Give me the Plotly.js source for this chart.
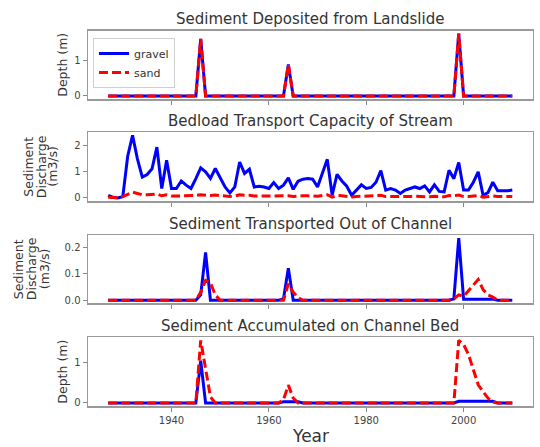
<!DOCTYPE html>
<html>
<head>
<meta charset="utf-8">
<script src="https://cdn.plot.ly/plotly-3.0.1.min.js"></script>
<style>html,body{margin:0;padding:0;background:#fff;}#chart{width:540px;height:447px;}</style>
</head>
<body>
<div id="chart"></div>
<script>
// Years (x values)
const years = [
 1927,1928,1929,1930,1931,1932,1933,1934,1935,1936,
 1937,1938,1939,1940,1941,1942,1943,1944,1945,1946,
 1947,1948,1949,1950,1951,1952,1953,1954,1955,1956,
 1957,1958,1959,1960,1961,1962,1963,1964,1965,1966,
 1967,1968,1969,1970,1971,1972,1973,1974,1975,1976,
 1977,1978,1979,1980,1981,1982,1983,1984,1985,1986,
 1987,1988,1989,1990,1991,1992,1993,1994,1995,1996,
 1997,1998,1999,2000,2001,2002,2003,2004,2005,2006,
 2007,2008,2009,2010];

// Panel 1: Sediment deposited from landslide (m)
const depositGravel = [
 0,0,0,0,0,0,0,0,0,0,
 0,0,0,0,0,0,0,0,0,1.6,
 0,0,0,0,0,0,0,0,0,0,
 0,0,0,0,0,0,0,0.88,0,0,
 0,0,0,0,0,0,0,0,0,0,
 0,0,0,0,0,0,0,0,0,0,
 0,0,0,0,0,0,0,0,0,0,
 0,0,1.75,0,0,0,0,0,0,0,
 0,0,0,0];
const depositSand = [
 0,0,0,0,0,0,0,0,0,0,
 0,0,0,0,0,0,0,0,0,1.6,
 0,0,0,0,0,0,0,0,0,0,
 0,0,0,0,0,0,0,0.88,0,0,
 0,0,0,0,0,0,0,0,0,0,
 0,0,0,0,0,0,0,0,0,0,
 0,0,0,0,0,0,0,0,0,0,
 0,0,1.75,0,0,0,0,0,0,0,
 0,0,0,0];

// Panel 2: Bedload transport capacity (m3/s)
const capacityGravel = [
 0.1,0.02,0.0,0.05,1.6,2.4,1.5,0.8,0.9,1.12,
 1.95,0.36,1.45,0.36,0.36,0.65,0.49,0.36,0.74,1.15,
 1.0,0.75,1.13,0.8,0.42,0.19,0.42,1.38,0.94,1.1,
 0.42,0.45,0.42,0.36,0.59,0.36,0.49,0.77,0.33,0.64,
 0.72,0.74,0.72,0.42,0.95,1.48,0.1,0.9,0.65,0.45,
 0.1,0.3,0.5,0.36,0.4,0.6,1.05,0.3,0.36,0.3,
 0.17,0.3,0.35,0.42,0.36,0.46,0.23,0.5,0.25,0.23,
 1.06,0.74,1.36,0.3,0.3,0.6,1.0,0.1,0.2,0.6,
 0.27,0.27,0.27,0.3];
const capacitySand = [
 0.02,0.0,0.0,0.05,0.15,0.22,0.17,0.12,0.12,0.13,
 0.15,0.08,0.12,0.07,0.07,0.09,0.08,0.07,0.09,0.12,
 0.11,0.09,0.11,0.09,0.07,0.05,0.07,0.12,0.1,0.1,
 0.07,0.07,0.07,0.06,0.08,0.06,0.07,0.08,0.05,0.07,
 0.08,0.08,0.08,0.06,0.09,0.12,0.03,0.09,0.08,0.06,
 0.03,0.05,0.06,0.05,0.06,0.07,0.1,0.05,0.05,0.05,
 0.03,0.05,0.05,0.06,0.05,0.06,0.04,0.06,0.04,0.04,
 0.09,0.08,0.11,0.05,0.05,0.07,0.09,0.03,0.04,0.07,
 0.05,0.05,0.05,0.05];

// Panel 3: Sediment transported out of channel (m3/s)
const outGravel = [
 0,0,0,0,0,0,0,0,0,0,
 0,0,0,0,0,0,0,0,0,0.02,
 0.18,0,0,0,0,0,0,0,0,0,
 0,0,0,0,0,0,0.005,0.12,0,0,
 0,0,0,0,0,0,0,0,0,0,
 0,0,0,0,0,0,0,0,0,0,
 0,0,0,0,0,0,0,0,0,0,
 0,0.005,0.234,0.004,0.004,0.004,0.004,0.004,0.004,0.004,
 0,0,0,0];
const outSand = [
 0,0,0,0,0,0,0,0,0,0,
 0,0,0,0,0,0,0,0,0,0.03,
 0.075,0.065,0.02,0,0,0,0,0,0,0,
 0,0,0,0,0,0,0,0.062,0.03,0.01,
 0,0,0,0,0,0,0,0,0,0,
 0,0,0,0,0,0,0,0,0,0,
 0,0,0,0,0,0,0,0,0,0,
 0,0.005,0.02,0.015,0.035,0.055,0.078,0.04,0.02,0.012,
 0,0,0,0];

// Panel 4: Sediment accumulated on channel bed (m)
const bedGravel = [
 0,0,0,0,0,0,0,0,0,0,
 0,0,0,0,0,0,0,0,0,1.05,
 0,0,0,0,0,0,0,0,0,0,
 0,0,0,0,0,0,0.03,0.03,0.03,0.03,
 0,0,0,0,0,0,0,0,0,0,
 0,0,0,0,0,0,0,0,0,0,
 0,0,0,0,0,0,0,0,0,0,
 0,0,0.04,0.04,0.04,0.04,0.04,0.04,0.04,0.04,
 0,0,0,0];
const bedSand = [
 0,0,0,0,0,0,0,0,0,0,
 0,0,0,0,0,0,0,0,0,1.55,
 0.9,0.15,0,0,0,0,0,0,0,0,
 0,0,0,0,0,0,0.08,0.44,0.12,0,
 0,0,0,0,0,0,0,0,0,0,
 0,0,0,0,0,0,0,0,0,0,
 0,0,0,0,0,0,0,0,0,0,
 0,0,1.55,1.45,1.2,0.8,0.45,0.28,0.12,0.02,
 0,0,0,0];

const panelTitles = ['Sediment Deposited from Landslide','Bedload Transport Capacity of Stream',
  'Sediment Transported Out of Channel','Sediment Accumulated on Channel Bed'];
const xTickVals = [1940,1960,1980,2000];
const xTickText = ['1940','1960','1980','2000'];
const seriesNames = ['gravel','sand'];

const W = 540, H = 447;
const px = v => v / W;
const py = v => 1 - v / H;

const gravelData = [depositGravel, capacityGravel, outGravel, bedGravel];
const sandData = [depositSand, capacitySand, outSand, bedSand];

const traces = [];
for (let i = 0; i < 4; i++) {
  const xa = i === 0 ? 'x' : 'x' + (i + 1);
  const ya = i === 0 ? 'y' : 'y' + (i + 1);
  traces.push({x: years, y: gravelData[i], xaxis: xa, yaxis: ya, type: 'scatter', mode: 'lines',
    name: seriesNames[0], showlegend: i === 0, legendgroup: 'g',
    line: {color: '#0000ff', width: 3}});
  traces.push({x: years, y: sandData[i], xaxis: xa, yaxis: ya, type: 'scatter', mode: 'lines',
    name: seriesNames[1], showlegend: i === 0, legendgroup: 's',
    line: {color: '#ff0000', width: 3, dash: '9px,4px'}});
}

// pixel boxes of the four panels (top, bottom)
const boxes = [[30.5, 99], [132.3, 201], [235, 303.3], [337.3, 406]];
const yRanges = [[-0.0875, 1.8375], [-0.12, 2.52], [-0.0117, 0.2457], [-0.0775, 1.6275]];
const yTicks = [[0, 1], [0, 1, 2], [0, 0.1, 0.2], [0, 1]];
const yFormats = ['d', 'd', '.1f', 'd'];

const layout = {
  width: W, height: H,
  margin: {l: 0, r: 0, t: 0, b: 0},
  paper_bgcolor: '#ffffff', plot_bgcolor: '#ffffff',
  font: {family: 'DejaVu Sans, sans-serif', color: '#333'},
  showlegend: true,
  legend: {x: px(93), y: py(38), xanchor: 'left', yanchor: 'top',
    bgcolor: 'rgba(255,255,255,0.85)', bordercolor: '#d0d0d0', borderwidth: 1,
    font: {size: 11, color: '#333'}, itemwidth: 30, tracegroupgap: 0},
  annotations: []
};

for (let i = 0; i < 4; i++) {
  const sx = i === 0 ? '' : String(i + 1);
  const [top, bot] = boxes[i];
  layout['xaxis' + sx] = {
    domain: [px(88), px(532.5)], anchor: 'y' + sx, range: [1922.85, 2014.15],
    tickmode: 'array', tickvals: xTickVals, ticktext: xTickText,
    showticklabels: i === 3, ticks: 'outside', ticklen: 4, tickwidth: 1, tickcolor: '#888',
    showline: true, mirror: true, linecolor: '#9a9a9a', linewidth: 1.5,
    showgrid: false, zeroline: false, tickfont: {size: 10, color: '#444'}, automargin: false
  };
  layout['yaxis' + sx] = {
    domain: [py(bot), py(top)], anchor: 'x' + sx, range: yRanges[i],
    tickmode: 'array', tickvals: yTicks[i], tickformat: yFormats[i],
    ticks: 'outside', ticklen: 4, tickwidth: 1, tickcolor: '#888',
    showline: true, mirror: true, linecolor: '#9a9a9a', linewidth: 1.5,
    showgrid: false, zeroline: false, tickfont: {size: 10, color: '#444'}, automargin: false
  };
  layout.annotations.push({text: panelTitles[i], xref: 'paper', yref: 'paper',
    x: px(310), y: py(top - 11.5), xanchor: 'center', yanchor: 'middle', showarrow: false,
    font: {size: 15, color: '#333'}});
}

// y-axis labels
const yLabelSpec = [
  {lines: ['Depth (m)'], xs: [63], panel: 0},
  {lines: ['Sediment', 'Discharge', '(m3/s)'], xs: [29, 41.5, 53], panel: 1},
  {lines: ['Sediment', 'Discharge', '(m3/s)'], xs: [18, 31, 44], panel: 2},
  {lines: ['Depth (m)'], xs: [63], panel: 3}
];
yLabelSpec.forEach(s => {
  const [top, bot] = boxes[s.panel];
  s.lines.forEach((t, k) => {
    layout.annotations.push({text: t, xref: 'paper', yref: 'paper', x: px(s.xs[k]), y: py((top + bot) / 2),
      xanchor: 'center', yanchor: 'middle', textangle: -90, showarrow: false,
      font: {size: 12.5, color: '#333'}});
  });
});

layout.annotations.push({text: 'Year', xref: 'paper', yref: 'paper', x: px(310), y: py(436),
  xanchor: 'center', yanchor: 'middle', showarrow: false, font: {size: 17, color: '#333'}});

Plotly.newPlot('chart', traces, layout, {staticPlot: true, displayModeBar: false});
</script>
</body>
</html>
